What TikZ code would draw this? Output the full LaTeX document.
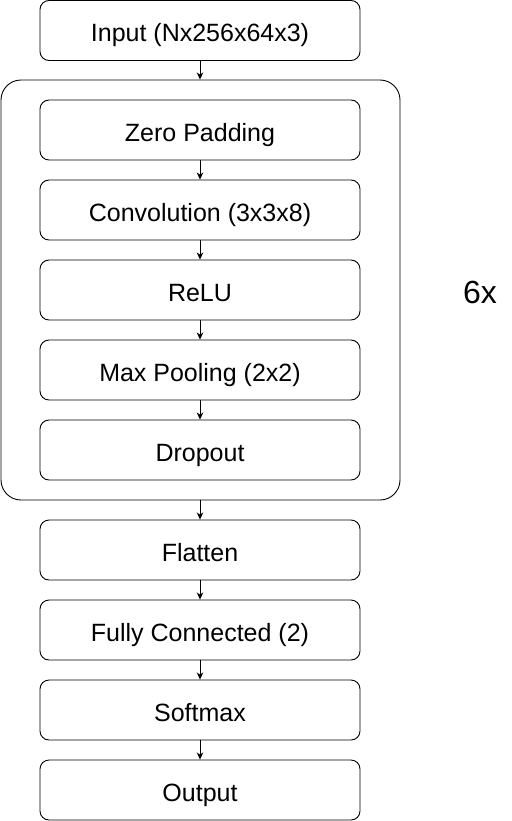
\documentclass[tikz,border=0pt]{standalone}
\usepackage{fontspec}
\setmainfont{Liberation Sans}
\usetikzlibrary{arrows.meta}
\begin{document}
\begin{tikzpicture}[x=1pt,y=-1pt,
  layerbox/.style={draw, line width=0.9pt, rounded corners=9pt, minimum width=320pt, minimum height=60pt, inner sep=0pt, text height=23pt, text depth=0pt, font=\fontsize{25}{30}\selectfont},
  conn/.style={line width=0.9pt, -{Stealth[length=7pt,width=6.5pt,inset=2pt]}},
]
\useasboundingbox (0,0) rectangle (511,821);
\node[draw, line width=0.9pt, rounded corners=20pt, minimum width=399pt, minimum height=420pt, inner sep=0pt] (rep) at (200.5,290) {};
\node[layerbox] (inp) at (200,30.5) {Input (Nx256x64x3)};
\node[layerbox] (zp) at (200,130) {Zero Padding};
\node[layerbox] (conv) at (200,210) {Convolution (3x3x8)};
\node[layerbox] (relu) at (200,290) {ReLU};
\node[layerbox] (pool) at (200,370) {Max Pooling (2x2)};
\node[layerbox] (drop) at (200,450) {Dropout};
\node[layerbox] (flat) at (200,550) {Flatten};
\node[layerbox] (fc) at (200,630) {Fully Connected (2)};
\node[layerbox] (soft) at (200,710) {Softmax};
\node[layerbox] (out) at (200,790) {Output};
\node[font=\fontsize{32}{36}\selectfont, text height=23pt, text depth=0pt, inner sep=0pt] (rep6) at (480,291.5) {6x};
\draw[conn] (inp.south) -- (rep.north -| inp.south);
\draw[conn] (zp) -- (conv);
\draw[conn] (conv) -- (relu);
\draw[conn] (relu) -- (pool);
\draw[conn] (pool) -- (drop);
\draw[conn] (rep.south -| flat.north) -- (flat.north);
\draw[conn] (flat) -- (fc);
\draw[conn] (fc) -- (soft);
\draw[conn] (soft) -- (out);
\end{tikzpicture}
\end{document}
